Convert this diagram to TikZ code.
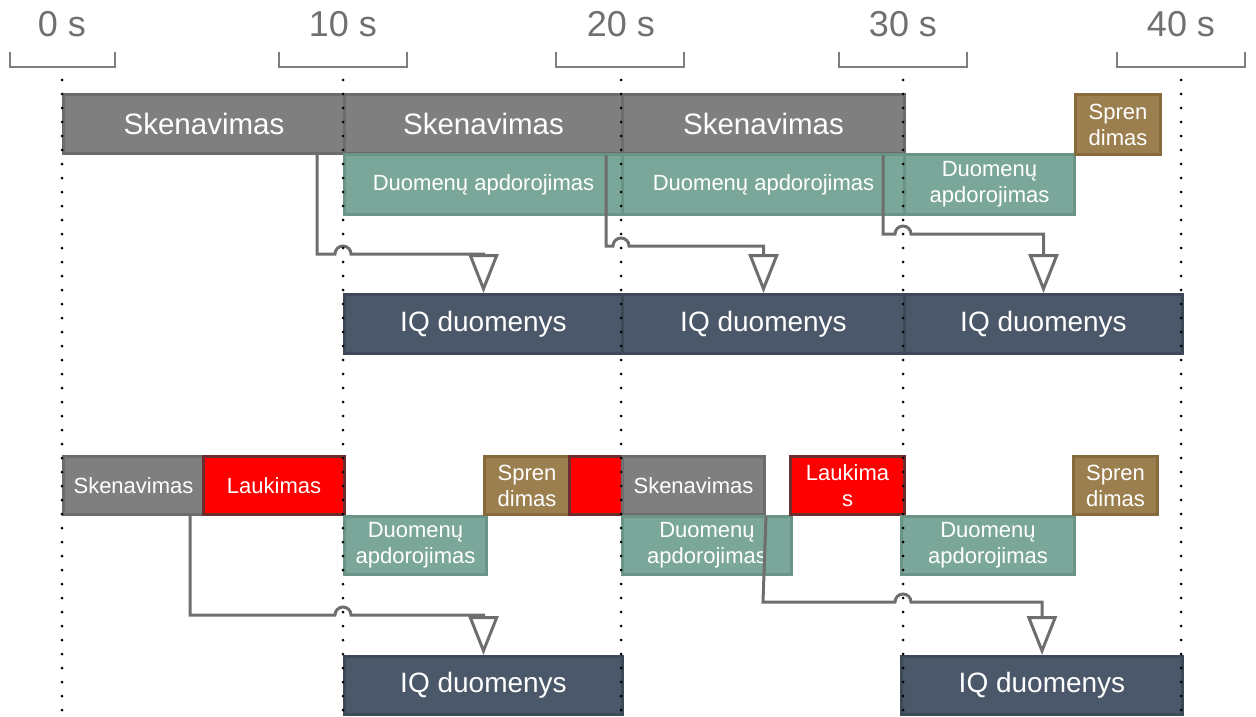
\documentclass[tikz,border=0pt]{standalone}
\usepackage{fontspec}
\setmainfont{Liberation Sans}
\usetikzlibrary{arrows.meta}
\definecolor{skfill}{HTML}{7F7F7F}
\definecolor{skline}{HTML}{6C6C6C}
\definecolor{dafill}{HTML}{7BA79A}
\definecolor{daline}{HTML}{6A9487}
\definecolor{spfill}{HTML}{9C7F4F}
\definecolor{spline}{HTML}{866A3C}
\definecolor{lkfill}{HTML}{FF0000}
\definecolor{lkline}{HTML}{6B2D2D}
\definecolor{iqfill}{HTML}{4B5869}
\definecolor{iqline}{HTML}{3E4957}
\definecolor{rline}{HTML}{6E6E6E}
\definecolor{laikotekstas}{HTML}{707070}
\begin{document}
\begin{tikzpicture}[x=1pt,y=-1pt]
    % Stiliai
    \tikzstyle{blokas}=[draw, line width=3pt, inner sep=0pt, anchor=north west, text=white, align=center]
    \tikzstyle{skenavimas}=[blokas, fill=skfill, draw=skline]
    \tikzstyle{apdorojimas}=[blokas, fill=dafill, draw=daline, font=\fontsize{22}{26}\selectfont]
    \tikzstyle{sprendimas}=[blokas, fill=spfill, draw=spline, font=\fontsize{22}{26}\selectfont]
    \tikzstyle{laukimas}=[blokas, fill=lkfill, draw=lkline, font=\fontsize{22}{26}\selectfont]
    \tikzstyle{iqblokas}=[blokas, fill=iqfill, draw=iqline, font=\fontsize{28}{30}\selectfont]
    \tikzstyle{rysys}=[line width=3pt, draw=rline, -{Triangle[open, length=39pt, width=30pt]}]
    \tikzstyle{gaire}=[line width=3pt, dash pattern=on 0pt off 14pt, line cap=round]
    \tikzstyle{laikas}=[text=laikotekstas, font=\fontsize{36}{40}\selectfont]
    \tikzstyle{skliaustas}=[line width=2.5pt, draw=laikotekstas!90]

    \useasboundingbox (0,0) rectangle (1256,717);

    % Laiko skale
    \foreach \x/\t/\a/\b in {62/0/10/115, 343/10/279/407, 621/20/556/684, 903/30/839/967, 1181/40/1117/1245} {
        \node[laikas] (l\t) at (\x,24) {\t{} s};
        \draw[skliaustas] (\a,52) -- (\a,67) -- (\b,67) -- (\b,52);
    }

    % Virsutine eile: skenavimas be pertraukos
    \node[skenavimas, minimum width=281, minimum height=59, font=\fontsize{29.5}{32}\selectfont] (sk1) at (62,93) {Skenavimas};
    \node[skenavimas, minimum width=278, minimum height=59, font=\fontsize{29.5}{32}\selectfont] (sk2) at (343,93) {Skenavimas};
    \node[skenavimas, minimum width=282, minimum height=59, font=\fontsize{29.5}{32}\selectfont] (sk3) at (621,93) {Skenavimas};
    \node[apdorojimas, minimum width=278, minimum height=60] (da1) at (343,153) {Duomenų apdorojimas};
    \node[apdorojimas, minimum width=282, minimum height=60] (da2) at (621,153) {Duomenų apdorojimas};
    \node[apdorojimas, minimum width=170, minimum height=60] (da3) at (903,153) {Duomenų\\apdorojimas};
    \node[sprendimas, minimum width=85, minimum height=60] (sp1) at (1074,93) {Spren\\dimas};
    \node[iqblokas, minimum width=278, minimum height=59] (iq1) at (343,293) {IQ duomenys};
    \node[iqblokas, minimum width=282, minimum height=59] (iq2) at (621,293) {IQ duomenys};
    \node[iqblokas, minimum width=278, minimum height=59] (iq3) at (903,293) {IQ duomenys};

    % Apatine eile: skenavimas su laukimu
    \node[skenavimas, minimum width=140, minimum height=58, font=\fontsize{22}{26}\selectfont] (skb1) at (62,455) {Skenavimas};
    \node[laukimas, minimum width=141, minimum height=58] (lk1) at (202,455) {Laukimas};
    \node[apdorojimas, minimum width=142, minimum height=58] (dab1) at (343,515) {Duomenų\\apdorojimas};
    \node[sprendimas, minimum width=85, minimum height=58] (spb1) at (483,455) {Spren\\dimas};
    \node[laukimas, minimum width=53, minimum height=58] (lk2) at (568,455) {};
    \node[skenavimas, minimum width=142, minimum height=58, font=\fontsize{22}{26}\selectfont] (skb2) at (621,455) {Skenavimas};
    \node[apdorojimas, minimum width=169, minimum height=58] (dab2) at (621,515) {Duomenų\\apdorojimas};
    \node[laukimas, minimum width=114, minimum height=58] (lk3) at (789,455) {Laukima\\s};
    \node[apdorojimas, minimum width=173, minimum height=58] (dab3) at (900,515) {Duomenų\\apdorojimas};
    \node[sprendimas, minimum width=84, minimum height=58] (spb2) at (1072,455) {Spren\\dimas};
    \node[iqblokas, minimum width=278, minimum height=58] (iqb1) at (343,655) {IQ duomenys};
    \node[iqblokas, minimum width=281, minimum height=58] (iqb2) at (900,655) {IQ duomenys};

    % Rysiai skenavimas -> IQ duomenys
    \draw[rysys] ([xshift=255pt]sk1.south west) -- (317,254) -- (335,254) arc[start angle=180, end angle=0, radius=8pt] -- (iq1.north |- 0,254) -- (iq1.north);
    \draw[rysys] ([xshift=263pt]sk2.south west) -- (606,246) -- (613,246) arc[start angle=180, end angle=0, radius=8pt] -- (iq2.north |- 0,246) -- (iq2.north);
    \draw[rysys] ([xshift=262pt]sk3.south west) -- (883,234) -- (895,234) arc[start angle=180, end angle=0, radius=8pt] -- (iq3.north |- 0,234) -- (iq3.north);
    \draw[rysys] ([xshift=128pt]skb1.south west) -- (190,615) -- (335,615) arc[start angle=180, end angle=0, radius=8pt] -- (iqb1.north |- 0,615) -- (iqb1.north);
    \draw[rysys] (skb2.south east) -- (763,602) -- (895,602) arc[start angle=180, end angle=0, radius=8pt] -- (iqb2.north |- 0,602) -- (iqb2.north);

    % Gaires
    \foreach \x in {62,343,621,903,1181}
        \draw[gaire] (\x,80) -- (\x,717);
\end{tikzpicture}
\end{document}
